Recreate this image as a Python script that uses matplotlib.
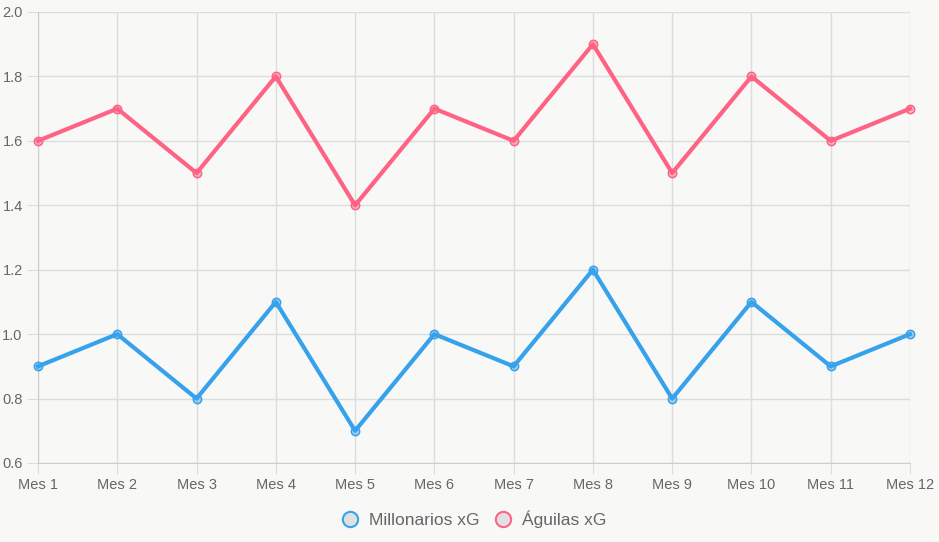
import matplotlib.pyplot as plt
from matplotlib.lines import Line2D

months = ['Mes 1', 'Mes 2', 'Mes 3', 'Mes 4', 'Mes 5', 'Mes 6',
          'Mes 7', 'Mes 8', 'Mes 9', 'Mes 10', 'Mes 11', 'Mes 12']
millonarios_xg = [0.9, 1.0, 0.8, 1.1, 0.7, 1.0, 0.9, 1.2, 0.8, 1.1, 0.9, 1.0]
aguilas_xg = [1.6, 1.7, 1.5, 1.8, 1.4, 1.7, 1.6, 1.9, 1.5, 1.8, 1.6, 1.7]
y_ticks = [0.6, 0.8, 1.0, 1.2, 1.4, 1.6, 1.8, 2.0]

BLUE = '#36a2eb'
PINK = '#ff6384'
BG = '#f8f8f7'
GRID = '#dddddd'
TEXT = '#666666'

plt.rcParams['font.family'] = ['Liberation Sans', 'DejaVu Sans']

fig = plt.figure(figsize=(9.39, 5.42), dpi=100, facecolor=BG)
ax = fig.add_axes([38 / 939, 1 - 463 / 542, (910 - 38) / 939, (463 - 12) / 542])
ax.set_facecolor(BG)

x = list(range(len(months)))
for vals, col in [(millonarios_xg, BLUE), (aguilas_xg, PINK)]:
    ax.plot(x, vals, color=col, lw=3, zorder=3, clip_on=False)
    ax.plot(x, vals, ls='none', marker='o', ms=6, mec=col, mew=1.1,
            mfc=col + '70', zorder=4, clip_on=False)

ax.set_xlim(0, len(months) - 1)
ax.set_ylim(0.6, 2.0)
ax.set_xticks(x)
ax.set_xticklabels(months)
ax.set_yticks(y_ticks)
ax.set_yticklabels([f'{v:.1f}' for v in y_ticks])
ax.grid(True, color=GRID, lw=1, zorder=0)
ax.tick_params(length=8, color=GRID, labelcolor=TEXT, labelsize=10.5, pad=3)
for side, sp in ax.spines.items():
    if side in ('left', 'bottom'):
        sp.set_color('#cccccc')
    else:
        sp.set_visible(False)

handles = [
    Line2D([], [], ls='none', marker='o', ms=11, mfc='#e0e0e0', mec=BLUE, mew=1.5),
    Line2D([], [], ls='none', marker='o', ms=11, mfc='#e0e0e0', mec=PINK, mew=1.5),
]
fig.legend(handles, ['Millonarios xG', 'Águilas xG'], loc='center',
           bbox_to_anchor=(0.5, 1 - 519 / 542), ncol=2, frameon=False,
           fontsize=12.5, labelcolor=TEXT, handletextpad=0.1, columnspacing=0.3)

fig.savefig('out.png', dpi=100, facecolor=BG)
